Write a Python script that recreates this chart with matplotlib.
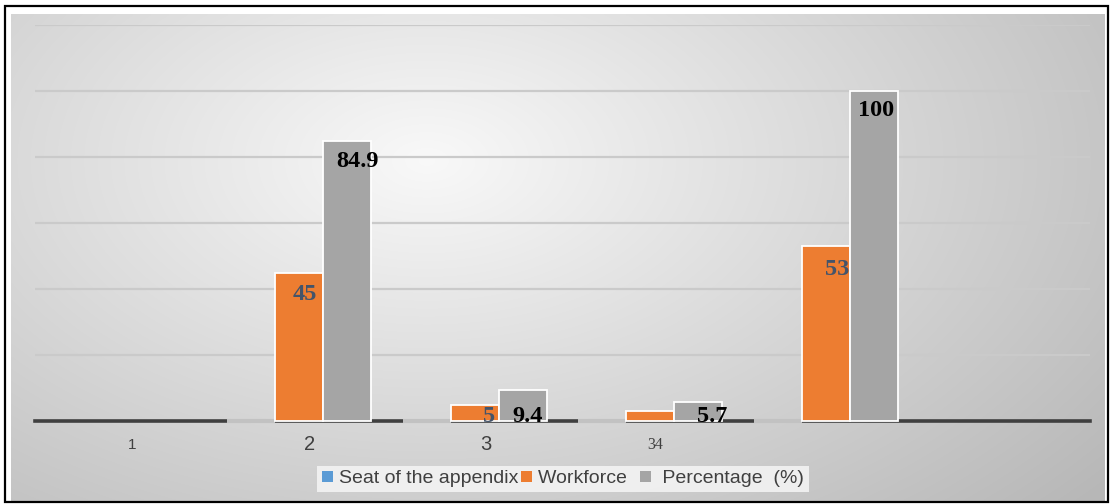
import numpy as np
import matplotlib
matplotlib.use('Agg')
import matplotlib.pyplot as plt
from matplotlib.patches import Rectangle, Patch

# ---------------- data ----------------
n_slots = 6                       # category slots on the axis
group_pos = [1, 2, 3, 4]          # slots that hold bars
seat = [0, 0, 0, 0]
workforce = [45, 5, 3, 53]
percentage = [84.9, 9.4, 5.7, 100]
workforce_labels = ['45', '5', '', '53']
percentage_labels = ['84.9', '9.4', '5.7', '100']
tick_labels = ['1', '2', '3', '34']
series_names = ['Seat of the appendix', 'Workforce  ', ' Percentage  (%)']
y_max = 120
y_step = 20

# ---------------- style ----------------
c_blue, c_orange, c_gray = '#5B9BD5', '#ED7D31', '#A5A5A5'
W, H = 1111, 504
fig = plt.figure(figsize=(W / 100, H / 100), dpi=100)
fig.patch.set_facecolor('white')

# background gradient panel
bx0, by0, bx1, by1 = 11, 14, 1105, 502
bg = fig.add_axes([bx0 / W, 1 - by1 / H, (bx1 - bx0) / W, (by1 - by0) / H])
bg.set_axis_off()
gx, gy = np.meshgrid(np.linspace(0, 1, 400), np.linspace(0, 1, 200))
r = np.sqrt(((gx - 0.38) / 0.75) ** 2 + ((gy - 0.3) / 1.0) ** 2)
v = np.clip(0.975 - 0.24 * r, 0.72, 1.0)
bg.imshow(np.dstack([v, v, v]), aspect='auto', extent=[0, 1, 1, 0], interpolation='bilinear')
bg.set_xlim(0, 1); bg.set_ylim(1, 0)

# outer frame
fig.patches.append(Rectangle((5 / W, 1 - 502 / H), 1103 / W, 496 / H, transform=fig.transFigure,
                             fill=False, edgecolor='black', linewidth=1.6, zorder=10))

ax = fig.add_axes([35 / W, 1 - 421 / H, (1090 - 35) / W, (421 - 25) / H])
ax.set_facecolor('none')
ax.set_xlim(-0.5, n_slots - 0.5)
ax.set_ylim(0, y_max)
for s in ax.spines.values():
    s.set_visible(False)
ax.set_yticks(np.arange(y_step, y_max + 1, y_step))
ax.set_yticklabels([])
ax.tick_params(length=0)
ax.set_xticks([])
ax.yaxis.grid(True, color='#CACACA', linewidth=1.6, zorder=0)
ax.set_axisbelow(True)
ax.axhline(0, color='#3F3F3F', linewidth=2.6, zorder=1, clip_on=False)

w = 0.273
pos = np.array(group_pos, dtype=float)
b0 = ax.bar(pos - w, seat, w, color=c_blue, edgecolor='#C2C2C2', linewidth=3.0, zorder=2)
b1 = ax.bar(pos, workforce, w, color=c_orange, edgecolor='white', linewidth=1.3, zorder=3)
b2 = ax.bar(pos + w, percentage, w, color=c_gray, edgecolor='white', linewidth=1.3, zorder=3)
for bc in (b0, b1, b2):
    for p in bc:
        p.set_clip_on(False)

serif = ['Liberation Serif', 'DejaVu Serif']
wf_off = [(6, -22), (14, -12), (0, 0), (11, -23)]
pc_off = [(11, -21), (5, -27), (14, -14), (2, -20)]
for p, val, lab, off in zip(pos, workforce, workforce_labels, wf_off):
    if lab:
        ax.annotate(lab, xy=(p, val), xytext=off, textcoords='offset pixels', ha='center', va='center',
                    fontsize=17.5, fontweight='bold', family=serif, color='#44546A', zorder=5)
for p, val, lab, off in zip(pos + w, percentage, percentage_labels, pc_off):
    ax.annotate(lab, xy=(p, val), xytext=off, textcoords='offset pixels', ha='center', va='center',
                fontsize=17.5, fontweight='bold', family=serif, color='black', zorder=5)

# category labels
tick_off = [9, 11, 11.5, 5]
sans = ['Liberation Sans', 'DejaVu Sans']
tick_style = [dict(fontsize=11, family=sans, fontstretch='condensed'), dict(fontsize=14.5, family=sans),
              dict(fontsize=14.5, family=sans), dict(fontsize=11.5, family=serif)]
for i, (lab, dx, st) in enumerate(zip(tick_labels, tick_off, tick_style)):
    ax.annotate(lab, xy=(i, 0), xytext=(dx, -24), textcoords='offset pixels', ha='center', va='center',
                color='#404040', annotation_clip=False, **st)

handles = [Patch(facecolor=c, edgecolor='none') for c in (c_blue, c_orange, c_gray)]
leg = fig.legend(handles, series_names, loc='lower center', bbox_to_anchor=(563 / W, 2 / H), ncol=3,
                 frameon=True, fancybox=False, facecolor='#F3F3F3', edgecolor='none', framealpha=0.9,
                 prop={'family': sans, 'size': 14},
                 handlelength=0.55, handleheight=0.55, handletextpad=0.3, columnspacing=0.15,
                 borderpad=0.25, labelcolor='#404040')

fig.savefig('out.png', dpi=100)
